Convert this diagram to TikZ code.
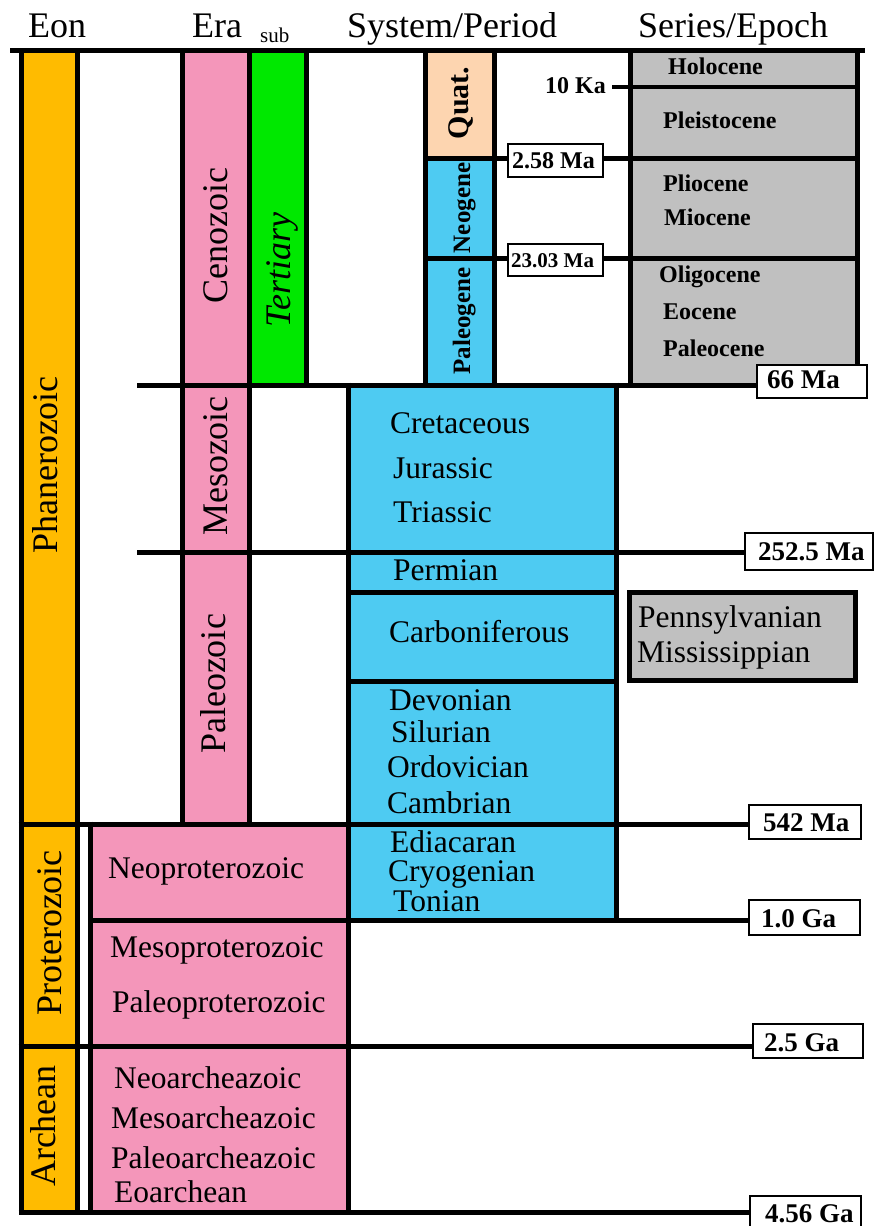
\documentclass[tikz,border=0pt]{standalone}
\usepackage{fontspec}
\setmainfont{Liberation Serif}
\definecolor{eon}{RGB}{255,187,0}
\definecolor{era}{RGB}{244,150,186}
\definecolor{tert}{RGB}{0,232,0}
\definecolor{per}{RGB}{78,203,242}
\definecolor{quat}{RGB}{253,213,176}
\definecolor{epo}{RGB}{192,192,192}
\tikzset{
  rule/.style={line width=5pt},
  hdr/.style={font=\fontsize{36}{36}\selectfont, anchor=base west, inner sep=0pt},
  subhdr/.style={font=\fontsize{21}{21}\selectfont, anchor=base west, inner sep=0pt},
  biglbl/.style={font=\fontsize{36}{36}\selectfont, rotate=90, anchor=base, inner sep=0pt},
  boldrot/.style={font=\bfseries\fontsize{25}{25}\selectfont, rotate=90, anchor=base, inner sep=0pt},
  lbl/.style={font=\fontsize{31.5}{31.5}\selectfont, anchor=base west, inner sep=0pt},
  eplbl/.style={font=\bfseries\fontsize{24}{24}\selectfont, anchor=base west, inner sep=0pt},
  datelbl/.style={font=\bfseries\fontsize{27}{27}\selectfont, anchor=base west, inner sep=0pt},
  dbox/.style={draw, line width=1.6pt, fill=white},
}
\begin{document}
\begin{tikzpicture}[x=1pt,y=-1pt]
\useasboundingbox (0,0) rectangle (880,1226);
% ---- fills
\fill[eon] (21,50) rectangle (77,824);
\fill[eon] (21,824) rectangle (77,1046);
\fill[eon] (21,1046) rectangle (77,1212);
\fill[era] (182,50) rectangle (249,385);
\fill[era] (182,385) rectangle (249,552);
\fill[era] (182,552) rectangle (249,824);
\fill[tert] (249,50) rectangle (306,385);
\fill[quat] (425,50) rectangle (494,158);
\fill[per] (425,158) rectangle (494,258);
\fill[per] (425,258) rectangle (494,385);
\fill[epo] (630,50) rectangle (857,385);
\fill[per] (348,385) rectangle (616,552);
\fill[per] (348,552) rectangle (616,592);
\fill[per] (348,592) rectangle (616,681);
\fill[per] (348,681) rectangle (616,824);
\fill[per] (348,824) rectangle (616,920);
\fill[era] (90,824) rectangle (348,920);
\fill[era] (90,920) rectangle (348,1046);
\fill[era] (90,1046) rectangle (348,1212);
% ---- horizontal rules
\draw[rule] (10,50) -- (865,50);
\draw[rule] (425,158) -- (857,158);
\draw[rule] (425,258) -- (857,258);
\draw[line width=4pt] (612,86.5) -- (855,86.5);
\draw[rule] (137,385) -- (758,385);
\draw[rule] (137,552) -- (746,552);
\draw[rule] (348,592) -- (616,592);
\draw[rule] (348,681) -- (616,681);
\draw[rule] (18.5,824) -- (750,824);
\draw[rule] (90,920) -- (750,920);
\draw[rule] (18.5,1046) -- (754,1046);
\draw[rule] (18.5,1212) -- (751,1212);
% ---- vertical rules
\draw[rule] (21,50) -- (21,1214.5);
\draw[rule] (77,50) -- (77,1214.5);
\draw[rule] (90,821.5) -- (90,1214.5);
\draw[rule] (182,50) -- (182,826.5);
\draw[rule] (249,50) -- (249,826.5);
\draw[rule] (306,53) -- (306,387.5);
\draw[rule] (425,50) -- (425,387.5);
\draw[rule] (494,50) -- (494,387.5);
\draw[rule] (630,50) -- (630,387.5);
\draw[rule] (857,50) -- (857,387.5);
\draw[rule] (348,382.5) -- (348,1214.5);
\draw[rule] (616,382.5) -- (616,922.5);
% Pennsylvanian / Mississippian box
\draw[rule, fill=epo] (629.5,592.5) rectangle (855.5,680.5);
% ---- date boxes
\draw[dbox] (508,144) rectangle (603,177);
\draw[dbox] (508,244) rectangle (603,276);
\draw[dbox] (757,365) rectangle (867,398);
\draw[dbox] (745,533) rectangle (873,570);
\draw[dbox] (749,805) rectangle (861,839);
\draw[dbox] (749,900) rectangle (860,935);
\draw[dbox] (753,1024) rectangle (863,1058);
\draw[dbox] (750,1196) rectangle (861,1240);
% ---- headers
\node[hdr] (hEon) at (28,37) {Eon};
\node[hdr] (hEra) at (192,37) {Era};
\node[subhdr] (hSub) at (260,42) {sub};
\node[hdr] (hSys) at (347,37) {System/Period};
\node[hdr] (hSer) at (638,37) {Series/Epoch};
% ---- rotated labels
\node[biglbl] (phan) at (57,465) {Phanerozoic};
\node[biglbl] (prot) at (61,933) {Proterozoic};
\node[biglbl] (arch) at (55,1126) {Archean};
\node[biglbl] (ceno) at (227,236) {Cenozoic};
\node[biglbl] (meso) at (227,466) {Mesozoic};
\node[biglbl] (pale) at (225,684) {Paleozoic};
\node[biglbl, font=\itshape\fontsize{36}{36}\selectfont] (tert) at (290,270) {Tertiary};
\node[boldrot, font=\bfseries\fontsize{30}{30}\selectfont] (quat) at (468,103) {Quat.};
\node[boldrot] (neog) at (470,208) {Neogene};
\node[boldrot] (paleog) at (470,321) {Paleogene};
% ---- epochs
\node[eplbl] (holo) at (668,74) {Holocene};
\node[eplbl] (plei) at (663,128) {Pleistocene};
\node[eplbl] (plio) at (663,191) {Pliocene};
\node[eplbl] (mio) at (664,225) {Miocene};
\node[eplbl] (oli) at (659,282) {Oligocene};
\node[eplbl] (eoc) at (663,319) {Eocene};
\node[eplbl] (pal) at (663,356) {Paleocene};
% ---- periods
\node[lbl] (cret) at (390,433) {Cretaceous};
\node[lbl] (jur) at (393,478) {Jurassic};
\node[lbl] (tri) at (393,522) {Triassic};
\node[lbl] (perm) at (393,580) {Permian};
\node[lbl] (carb) at (389,642) {Carboniferous};
\node[lbl] (dev) at (389,710) {Devonian};
\node[lbl] (sil) at (391,742) {Silurian};
\node[lbl] (ord) at (387,777) {Ordovician};
\node[lbl] (camb) at (387,813) {Cambrian};
\node[lbl] (edi) at (390,852) {Ediacaran};
\node[lbl] (cryo) at (388,881.5) {Cryogenian};
\node[lbl] (ton) at (393,911) {Tonian};
\node[lbl] (penn) at (638,627) {Pennsylvanian};
\node[lbl] (miss) at (637,662) {Mississippian};
% ---- precambrian eras
\node[lbl] (neop) at (108,878) {Neoproterozoic};
\node[lbl] (mesop) at (110,957) {Mesoproterozoic};
\node[lbl] (paleop) at (112,1012) {Paleoproterozoic};
\node[lbl] (neoa) at (114,1088) {Neoarcheazoic};
\node[lbl] (mesoa) at (111,1128) {Mesoarcheazoic};
\node[lbl] (paleoa) at (111,1168) {Paleoarcheazoic};
\node[lbl] (eoa) at (114,1202) {Eoarchean};
% ---- dates
\node[eplbl] (d10ka) at (545,93) {10 Ka};
\node[eplbl] (d258) at (512,168) {2.58 Ma};
\node[eplbl, font=\bfseries\fontsize{21}{21}\selectfont] (d2303) at (511,267) {23.03 Ma};
\node[datelbl] (d66) at (767,388) {66 Ma};
\node[datelbl] (d2525) at (758,560) {252.5 Ma};
\node[datelbl] (d542) at (763,831) {542 Ma};
\node[datelbl] (d10ga) at (761,927) {1.0 Ga};
\node[datelbl] (d25ga) at (764,1051) {2.5 Ga};
\node[datelbl] (d456) at (765,1222) {4.56 Ga};
\end{tikzpicture}
\end{document}
